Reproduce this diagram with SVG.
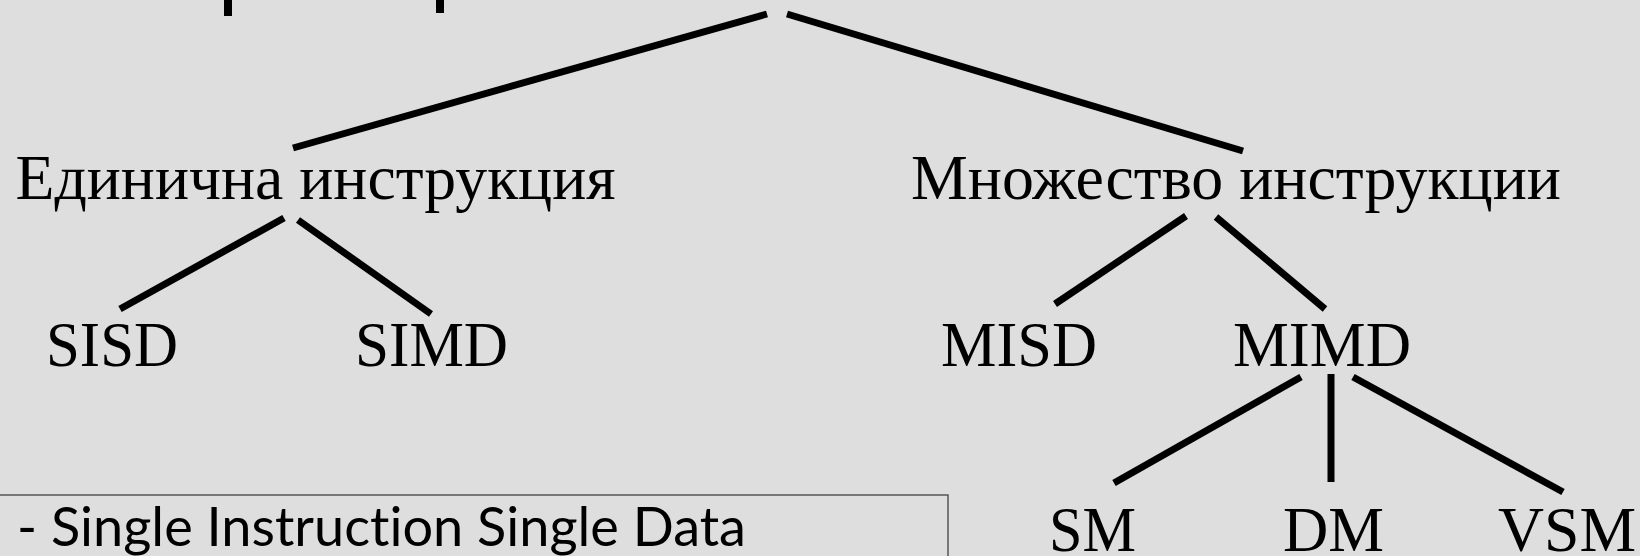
<svg xmlns="http://www.w3.org/2000/svg" width="1640" height="556" viewBox="0 0 1640 556">
<style>
.bg{fill:#dedede}
.ln{stroke:#000;stroke-width:7;fill:none}
.t{font-family:"Liberation Serif","Times New Roman",serif;font-size:64px;fill:#000}
.s{font-family:"Lato","Open Sans",sans-serif;font-size:55px;fill:#000;font-variant-ligatures:none;font-feature-settings:"liga" 0,"clig" 0}
.box{fill:none;stroke:#555;stroke-width:1.5}
</style>
<rect class="bg" x="0" y="0" width="1640" height="556"/>
<g id="connectors">
<line class="ln" x1="228" y1="0" x2="228" y2="16" style="stroke-width:8"/>
<line class="ln" x1="440" y1="0" x2="440" y2="13" style="stroke-width:8"/>
<line class="ln" x1="767" y1="14" x2="293" y2="148"/>
<line class="ln" x1="787" y1="14" x2="1243" y2="151"/>
<line class="ln" x1="284" y1="218" x2="120" y2="309"/>
<line class="ln" x1="298" y1="220" x2="431" y2="314"/>
<line class="ln" x1="1186" y1="216" x2="1055" y2="304"/>
<line class="ln" x1="1216" y1="217" x2="1325" y2="309"/>
<line class="ln" x1="1301" y1="377" x2="1114" y2="483"/>
<line class="ln" x1="1331" y1="374" x2="1331" y2="482"/>
<line class="ln" x1="1353" y1="377" x2="1563" y2="492"/>
</g>
<g id="single"><text class="t" x="15.5" y="199" textLength="600" lengthAdjust="spacingAndGlyphs">Единична инструкция</text></g>
<g id="multiple"><text class="t" x="911" y="199" textLength="650" lengthAdjust="spacingAndGlyphs">Множество инструкции</text></g>
<g id="sisd"><text class="t" x="46" y="366" textLength="132" lengthAdjust="spacingAndGlyphs">SISD</text></g>
<g id="simd"><text class="t" x="355" y="366" textLength="153" lengthAdjust="spacingAndGlyphs">SIMD</text></g>
<g id="misd"><text class="t" x="941" y="366" textLength="156" lengthAdjust="spacingAndGlyphs">MISD</text></g>
<g id="mimd"><text class="t" x="1233" y="366" textLength="178" lengthAdjust="spacingAndGlyphs">MIMD</text></g>
<g id="sm"><text class="t" x="1049" y="551" textLength="87" lengthAdjust="spacingAndGlyphs">SM</text></g>
<g id="dm"><text class="t" x="1283" y="551" textLength="101" lengthAdjust="spacingAndGlyphs">DM</text></g>
<g id="vsm"><text class="t" x="1498" y="551" textLength="138" lengthAdjust="spacingAndGlyphs">VSM</text></g>
<g id="note">
<rect class="box" x="-5" y="495" width="953" height="80"/>
<text class="s" x="17" y="546" textLength="729" lengthAdjust="spacingAndGlyphs">- Single Instruction Single Data</text>
</g>
</svg>
